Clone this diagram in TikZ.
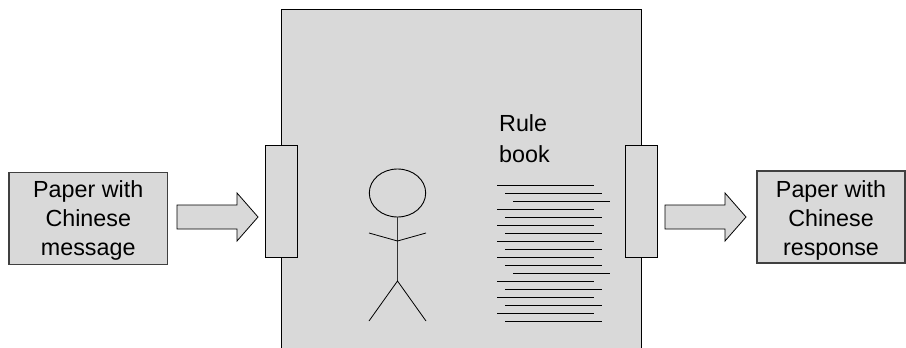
\documentclass[tikz,border=0pt]{standalone}
\usepackage{fontspec}
\usetikzlibrary{shapes.geometric}
\setmainfont{Liberation Sans}
\definecolor{panel}{HTML}{D9D9D9}
\tikzset{
  outline/.style={draw=black,line width=1pt,fill=panel},
  thinline/.style={draw=black,line width=1pt},
  paperbox/.style={outline,draw=black!75,line width=1.1pt,inner sep=0pt},
  papertext/.style={inner sep=0pt,align=center,font=\fontsize{23.3}{29}\selectfont},
  slotbox/.style={outline,inner sep=0pt,minimum width=32pt,minimum height=112pt},
}
\begin{document}
\begin{tikzpicture}[x=1pt,y=-1pt]
\useasboundingbox (0,0) rectangle (906,348);
\fill[white] (0,0) rectangle (906,348);
% room, open at the bottom edge
\fill[panel] (281,9) rectangle (641,348);
\draw[thinline] (281,348) -- (281,9) -- (641,9) -- (641,348);
% slots
\node[slotbox] (slotL) at (281.5,201) {};
\node[slotbox] (slotR) at (641.5,201) {};
% papers
\node[paperbox,minimum width=158.5pt,minimum height=92pt] (msg) at (88.25,218.5) {};
\node[papertext] (msgtext) at ([yshift=-2pt]msg.center) {Paper with\\Chinese\\message};
\node[paperbox,minimum width=148pt,minimum height=92pt] (resp) at (831,217) {};
\node[papertext] (resptext) at ([yshift=-3pt]resp.center) {Paper with\\Chinese\\response};
% block arrows
\draw[outline,line width=0.8pt] (177,205) -- (237,205) -- (237,193) -- (258,217) -- (237,241) -- (237,229) -- (177,229) -- cycle;
\draw[outline,line width=0.8pt] (665,205) -- (725,205) -- (725,193) -- (746,217) -- (725,241) -- (725,229) -- (665,229) -- cycle;
% figure
\node[draw=black,line width=0.9pt,ellipse,inner sep=0pt,minimum width=56.4pt,minimum height=48pt] (head) at (397.5,193) {};
\coordinate (shoulder) at (397.5,241);
\coordinate (hip) at (397.5,281);
\draw[draw=black!80,line width=1.2pt] (head.south) -- (shoulder) -- (hip);
\draw[thinline,line width=0.8pt] (369,233) -- (shoulder) -- (426,233);
\draw[thinline,line width=0.8pt] (369,321) -- (hip) -- (426,321);
% rule book
\node[anchor=west,inner sep=0pt,align=left,font=\fontsize{23.3}{31}\selectfont] (rule) at (499,139) {Rule\\book};
\foreach \y/\xa in {185/497,193/505,201/513,209/497,217/505,225/497,233/505,241/497,249/505,257/497,265/505,273/513,281/497,289/505,297/497,305/505,313/497,321/505}
  \draw[thinline] (\xa,\y) -- ++(97,0);
\end{tikzpicture}
\end{document}
